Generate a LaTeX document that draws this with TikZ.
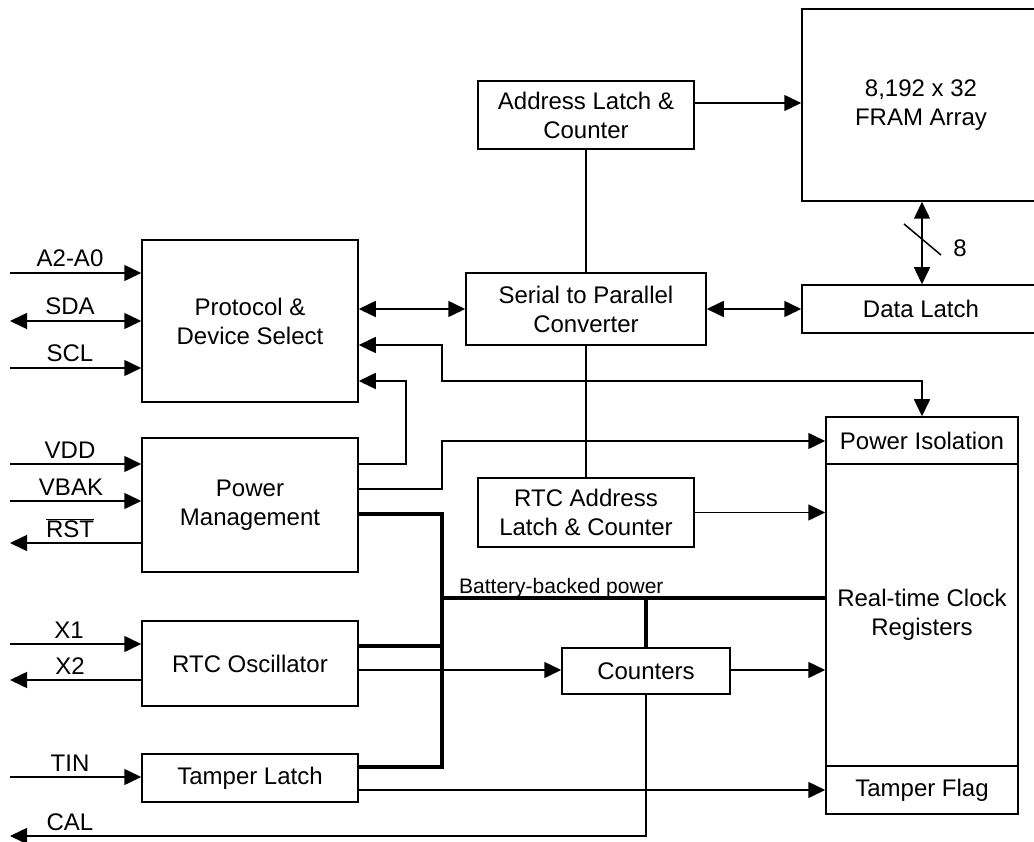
\documentclass[tikz,border=0pt]{standalone}
\usepackage{fontspec}
\setmainfont{Liberation Sans}
\usetikzlibrary{arrows.meta}
\begin{document}
\begin{tikzpicture}[x=1pt,y=-1pt,
  >={Triangle[length=17pt,width=16pt]},
  box/.style={draw, line width=1.5pt, rectangle, inner sep=0pt, align=center,
    font=\fontsize{24}{29}\selectfont},
  lbl/.style={anchor=base, inner sep=0pt, font=\fontsize{24}{29}\selectfont},
  small/.style={anchor=base west, inner sep=0pt, font=\fontsize{21}{25}\selectfont},
  ln/.style={line width=1.5pt},
  thk/.style={line width=3.6pt}]
\useasboundingbox (0,0) rectangle (1034,842);

% boxes
\node[box, minimum width=216pt, minimum height=68pt] (addr) at (586,115) {Address Latch \&\\Counter};
\node[box, minimum width=238pt, minimum height=192pt] (fram) at (921,105) {8,192 x 32\\FRAM Array};
\node[box, minimum width=240pt, minimum height=72pt] (ser) at (586,309) {Serial to Parallel\\Converter};
\node[box, minimum width=238pt, minimum height=48pt] (dlatch) at (921,309) {Data Latch};
\node[box, minimum width=216pt, minimum height=162pt] (prot) at (250,321) {Protocol \&\\Device Select};
\node[box, minimum width=216pt, minimum height=134pt] (pm) at (250,505) {Power\\Management};
\node[box, minimum width=192pt, minimum height=47pt] (piso) at (922,440.5) {Power Isolation};
\node[box, minimum width=192pt, minimum height=302pt] (rtc) at (922,615) {Real-time Clock\\Registers};
\node[box, minimum width=192pt, minimum height=48pt] (tflag) at (922,790) {Tamper Flag};
\node[box, minimum width=216pt, minimum height=69pt] (rtcaddr) at (586,512.5) {RTC Address\\Latch \& Counter};
\node[box, minimum width=216pt, minimum height=85pt] (osc) at (250,663.5) {RTC Oscillator};
\node[box, minimum width=168pt, minimum height=46pt] (cnt) at (646,671) {Counters};
\node[box, minimum width=216pt, minimum height=48pt] (tlatch) at (250,778) {Tamper Latch};

% pin coordinates
\coordinate (pA) at (10,273);
\coordinate (pSDA) at (10,321);
\coordinate (pSCL) at (10,368);
\coordinate (pVDD) at (10,464);
\coordinate (pVBAK) at (10,501);
\coordinate (pRST) at (10,543);
\coordinate (pX1) at (10,644);
\coordinate (pX2) at (10,680);
\coordinate (pTIN) at (10,777);
\coordinate (pCAL) at (10,836);

% pin labels
\node[lbl] (lA) at (70,267) {A2-A0};
\node[lbl] (lSDA) at (70,315) {SDA};
\node[lbl] (lSCL) at (70,362) {SCL};
\node[lbl] (lVDD) at (70,458) {VDD};
\node[lbl] (lVBAK) at (71,495) {VBAK};
\node[lbl] (lRST) at (70,537) {$\overline{\hbox{RST}}$};
\node[lbl] (lX1) at (69,638) {X1};
\node[lbl] (lX2) at (70,674) {X2};
\node[lbl] (lTIN) at (70,771) {TIN};
\node[lbl] (lCAL) at (70,830) {CAL};

% pin connectors
\draw[ln,->] (pA) -- (pA -| prot.west);
\draw[ln,<->] (pSDA) -- (pSDA -| prot.west);
\draw[ln,->] (pSCL) -- (pSCL -| prot.west);
\draw[ln,->] (pVDD) -- (pVDD -| pm.west);
\draw[ln,->] (pVBAK) -- (pVBAK -| pm.west);
\draw[ln,->] (pRST -| pm.west) -- (pRST);
\draw[ln,->] (pX1) -- (pX1 -| osc.west);
\draw[ln,->] (pX2 -| osc.west) -- (pX2);
\draw[ln,->] (pTIN) -- (pTIN -| tlatch.west);
\draw[ln,->] (cnt.south) -- (cnt.south |- pCAL) -- (pCAL);

% internal connectors
\draw[ln,->] (addr.east |- 0,103) -- (fram.west |- 0,103);
\draw[ln] (addr.south) -- (ser.north);
\draw[ln] (ser.south) -- (rtcaddr.north);
\draw[ln,<->] (prot.east |- ser.west) -- (ser.west);
\draw[ln,<->] (ser.east) -- (dlatch.west);
\draw[ln,<->] (fram.south -| 922,0) -- (dlatch.north -| 922,0);
\draw[ln] (904,224) -- (941,255);
\node[lbl] (bus8) at (960,257) {8};

\draw[ln,<->] (prot.east |- 0,345) -- (442,345) -- (442,381) -- (piso.north |- 0,381) -- (piso.north);
\draw[ln,->] (pm.east |- 0,464) -- (406,464) -- (406,381) -- (prot.east |- 0,381);
\draw[ln,->] (pm.east |- 0,489) -- (442,489) -- (442,441) -- (piso.west |- 0,441);
\draw[ln,->] (rtcaddr.east) -- (rtc.west |- rtcaddr.east);
\draw[ln,->] (osc.east |- 0,670) -- (cnt.west |- 0,670);
\draw[ln,->] (cnt.east |- 0,670) -- (rtc.west |- 0,670);
\draw[ln,->] (tlatch.east |- 0,790) -- (tflag.west);

% battery-backed power
\draw[thk] (pm.east |- 0,514) -- (442,514) -- (442,767) -- (tlatch.east |- 0,767);
\draw[thk] (osc.east |- 0,646) -- (442,646);
\draw[thk] (442,598) -- (rtc.west |- 0,598);
\draw[thk] (cnt.north) -- (cnt.north |- 0,598);
\node[small] (bbp) at (459,593) {Battery-backed power};
\end{tikzpicture}
\end{document}
